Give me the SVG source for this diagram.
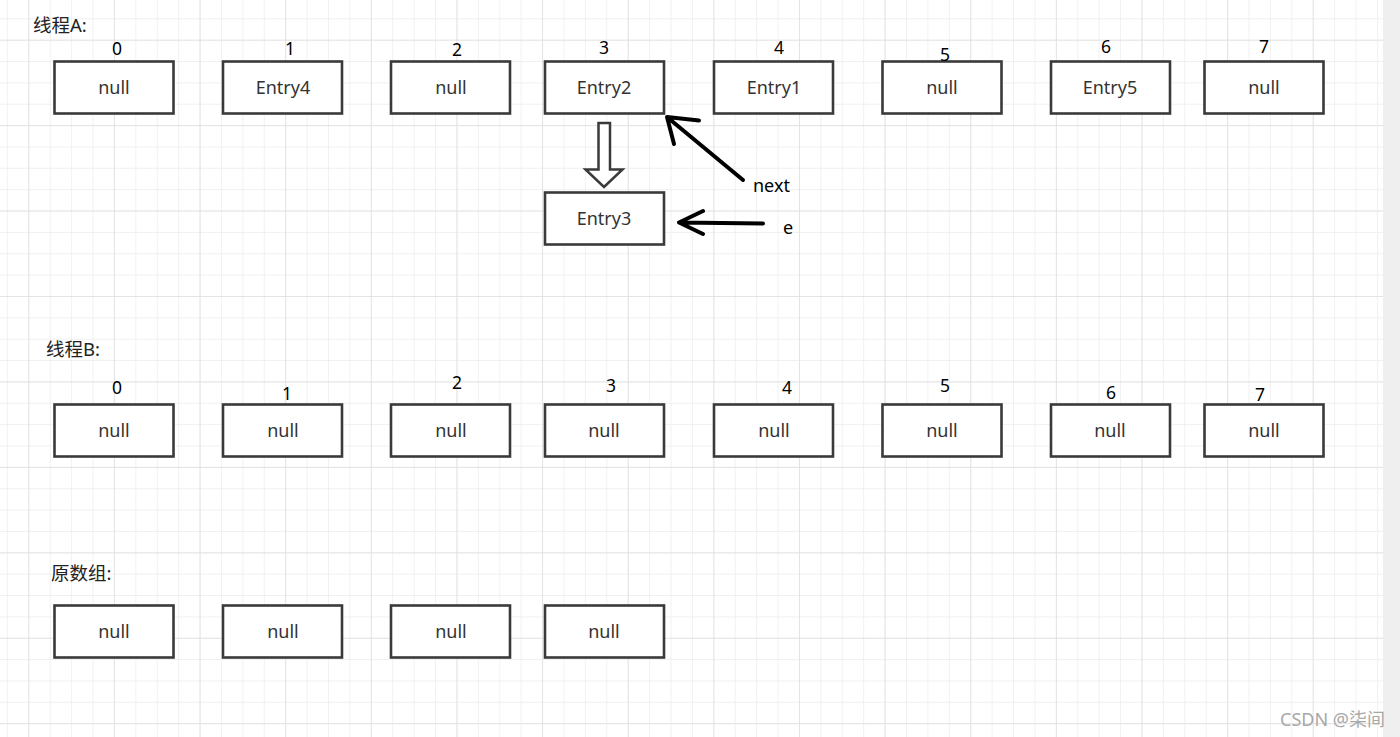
<svg xmlns="http://www.w3.org/2000/svg" width="1400" height="737" viewBox="0 0 1400 737">
  <defs>
    <pattern id="minor" x="6.9" y="18.3" width="21.407" height="21.36" patternUnits="userSpaceOnUse">
      <path d="M0 0 V21.36 M0 0 H21.407" fill="none" stroke="#ebebeb" stroke-width="1.3"/>
    </pattern>
    <pattern id="major" x="28.3" y="39.7" width="85.63" height="85.44" patternUnits="userSpaceOnUse">
      <path d="M0 0 V85.44 M0 0 H85.63" fill="none" stroke="#e0e0e0" stroke-width="1.5"/>
    </pattern>
    <style>
      .box { fill: #ffffff; stroke: #3a3a3a; stroke-width: 2.6; }
      .val { font-family: "Noto Sans", "Open Sans", sans-serif; font-size: 18px; fill: #333333; text-anchor: middle; }
      .idx { font-family: "Noto Sans", "Open Sans", sans-serif; font-size: 17.5px; fill: #000000; text-anchor: middle; }
      .title { font-family: "Noto Sans", "Noto Sans CJK SC", sans-serif; font-size: 18.5px; fill: #222222; }
      .lbl { font-family: "Noto Sans", "Open Sans", sans-serif; font-size: 18px; fill: #000000; }
      .ptr { fill: none; stroke: #000000; stroke-width: 4; stroke-linecap: round; stroke-linejoin: round; }
    </style>
  </defs>

  <rect x="0" y="0" width="1400" height="737" fill="#ffffff"/>
  <rect x="0" y="0" width="1383" height="737" fill="url(#minor)"/>
  <rect x="0" y="0" width="1383" height="737" fill="url(#major)"/>
  <rect x="1383" y="0" width="17" height="737" fill="#efefef"/>

  <g id="titles">
    <text class="title" x="33" y="32">线程A:</text>
    <text class="title" x="46" y="356">线程B:</text>
    <text class="title" x="51" y="580">原数组:</text>
  </g>

  <!-- Thread A -->
  <g id="A0"><rect class="box" x="54.5" y="61.5" width="119" height="52"/><text class="val" x="114" y="94">null</text><text class="idx" x="117" y="55">0</text></g>
  <g id="A1"><rect class="box" x="223" y="61.5" width="119" height="52"/><text class="val" x="283" y="94">Entry4</text><text class="idx" x="290" y="55">1</text></g>
  <g id="A2"><rect class="box" x="391" y="61.5" width="119" height="52"/><text class="val" x="451" y="94">null</text><text class="idx" x="457" y="56">2</text></g>
  <g id="A3"><rect class="box" x="545" y="61.5" width="119" height="52"/><text class="val" x="604" y="94">Entry2</text><text class="idx" x="604" y="54">3</text></g>
  <g id="A4"><rect class="box" x="714" y="61.5" width="119" height="52"/><text class="val" x="774" y="94">Entry1</text><text class="idx" x="779" y="54">4</text></g>
  <g id="A5"><rect class="box" x="882.5" y="61.5" width="119" height="52"/><text class="val" x="942" y="94">null</text><text class="idx" x="945" y="61">5</text></g>
  <g id="A6"><rect class="box" x="1051" y="61.5" width="119" height="52"/><text class="val" x="1110" y="94">Entry5</text><text class="idx" x="1106" y="53">6</text></g>
  <g id="A7"><rect class="box" x="1204.5" y="61.5" width="119" height="52"/><text class="val" x="1264" y="94">null</text><text class="idx" x="1264" y="53">7</text></g>
  <g id="A3b"><rect class="box" x="545" y="192.5" width="119" height="52"/><text class="val" x="604" y="225">Entry3</text></g>

  <!-- Thread B -->
  <g id="B0"><rect class="box" x="54.5" y="404.5" width="119" height="52"/><text class="val" x="114" y="437">null</text><text class="idx" x="117" y="394">0</text></g>
  <g id="B1"><rect class="box" x="223" y="404.5" width="119" height="52"/><text class="val" x="283" y="437">null</text><text class="idx" x="287" y="400">1</text></g>
  <g id="B2"><rect class="box" x="391" y="404.5" width="119" height="52"/><text class="val" x="451" y="437">null</text><text class="idx" x="457" y="389">2</text></g>
  <g id="B3"><rect class="box" x="545" y="404.5" width="119" height="52"/><text class="val" x="604" y="437">null</text><text class="idx" x="611" y="392">3</text></g>
  <g id="B4"><rect class="box" x="714" y="404.5" width="119" height="52"/><text class="val" x="774" y="437">null</text><text class="idx" x="787" y="394">4</text></g>
  <g id="B5"><rect class="box" x="882.5" y="404.5" width="119" height="52"/><text class="val" x="942" y="437">null</text><text class="idx" x="945" y="392">5</text></g>
  <g id="B6"><rect class="box" x="1051" y="404.5" width="119" height="52"/><text class="val" x="1110" y="437">null</text><text class="idx" x="1111" y="399">6</text></g>
  <g id="B7"><rect class="box" x="1204.5" y="404.5" width="119" height="52"/><text class="val" x="1264" y="437">null</text><text class="idx" x="1260" y="401">7</text></g>

  <!-- Original array -->
  <g id="C0"><rect class="box" x="54.5" y="605.5" width="119" height="52"/><text class="val" x="114" y="638">null</text></g>
  <g id="C1"><rect class="box" x="223" y="605.5" width="119" height="52"/><text class="val" x="283" y="638">null</text></g>
  <g id="C2"><rect class="box" x="391" y="605.5" width="119" height="52"/><text class="val" x="451" y="638">null</text></g>
  <g id="C3"><rect class="box" x="545" y="605.5" width="119" height="52"/><text class="val" x="604" y="638">null</text></g>

  <g id="connectors">
    <path d="M598.5 123 H610 V169.5 H622.5 L604 187 L585.5 169.5 H598.5 Z" fill="#ffffff" stroke="#3a3a3a" stroke-width="2.5" stroke-linejoin="miter"/>
    <path class="ptr" d="M743 180 L667 117 M699 120.5 L667 117 L674 144"/>
    <path class="ptr" d="M763 223.5 L679 222.5 M703 211 L679 222.5 L703 234"/>
    <text class="lbl" x="753" y="192">next</text>
    <text class="lbl" x="783" y="234">e</text>
  </g>

  <text x="1280" y="726" font-family="Noto Sans, Noto Sans CJK SC, sans-serif" font-size="18" fill="#a8a8a8">CSDN @柒间</text>
</svg>
